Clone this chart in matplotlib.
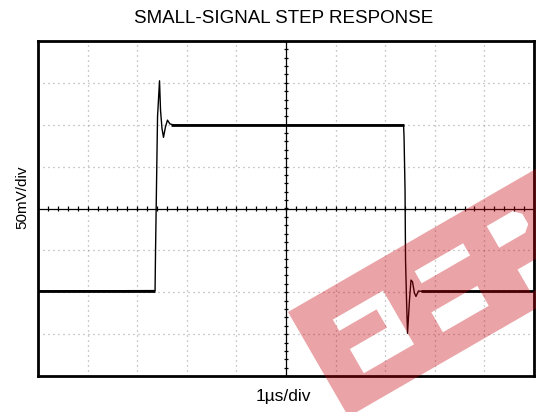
# small-signal step response, scope screenshot style
import numpy as np
import matplotlib
matplotlib.use('Agg')
import matplotlib.pyplot as plt
from matplotlib.path import Path
from matplotlib.patches import PathPatch

plt.rcParams['font.family'] = ['Liberation Sans', 'DejaVu Sans']

W, H = 536, 412

# trace: x in divisions (1us/div), y in divisions (50mV/div)
t_div = [0.0, 2.36, 2.37, 2.39, 2.41, 2.45, 2.47, 2.50, 2.53, 2.57, 2.61, 2.66, 2.75,
         7.37, 7.38, 7.40, 7.41, 7.43, 7.45, 7.49, 7.52, 7.55, 7.59, 7.62, 7.67, 7.75, 10.0]
v_div = [-1.97, -1.96, -0.99, 0.61, 2.19, 3.05, 2.35, 1.91, 1.70, 1.95, 2.11, 2.02, 1.99,
         1.99, 1.71, 0.44, -1.23, -2.18, -2.98, -2.18, -1.71, -1.75, -2.02, -2.10, -1.97, -1.98, -1.98]

# settled (noisy) parts of the trace: start, end, level
settled_start = [0.0, 2.68, 7.72]
settled_end = [2.36, 7.37, 10.0]
settled_level = [-1.97, 1.99, -1.98]

n_xdiv, n_ydiv = 10, 8

fig = plt.figure(figsize=(W / 100, H / 100), dpi=100)
fig.patch.set_facecolor('white')
ax = fig.add_axes([38 / W, 1 - 376 / H, 496 / W, 335 / H])
ax.set_xlim(0, n_xdiv)
ax.set_ylim(-n_ydiv / 2, n_ydiv / 2)
ax.set_xticks([])
ax.set_yticks([])
for s in ax.spines.values():
    s.set_linewidth(2.0)
    s.set_color('black')

# dotted graticule
for x in range(1, n_xdiv):
    if x != n_xdiv // 2:
        ax.axvline(x, color='#9a9a9a', lw=0.9, ls=(0, (0.8, 3.2)), zorder=1)
for y in range(-n_ydiv // 2 + 1, n_ydiv // 2):
    if y != 0:
        ax.axhline(y, color='#9a9a9a', lw=0.9, ls=(0, (0.8, 3.2)), zorder=1)

# centre crosshair with minor ticks
ax.axvline(n_xdiv / 2, color='black', lw=0.9, zorder=2)
ax.axhline(0, color='black', lw=0.9, zorder=2)
xt = np.arange(0, n_xdiv + 0.01, 0.2)
yt = np.arange(-n_ydiv / 2, n_ydiv / 2 + 0.01, 0.2)
ax.vlines(xt, -0.065, 0.065, color='black', lw=0.9, zorder=2)
ax.hlines(yt, n_xdiv / 2 - 0.05, n_xdiv / 2 + 0.05, color='black', lw=0.9, zorder=2)

# trace
ax.plot(t_div, v_div, color='black', lw=1.0, zorder=3)
ax.hlines(settled_level, settled_start, settled_end, color='black', lw=2.0, zorder=3)

# texts
fig.text(284 / W, 1 - 18.5 / H, 'SMALL-SIGNAL STEP RESPONSE', ha='center', va='center', fontsize=13.5)
fig.text(283 / W, 1 - 397 / H, '1µs/div', ha='center', va='center', fontsize=12.5)
fig.text(22.5 / W, 1 - 197 / H, '50mV/div', ha='center', va='center', rotation=90, fontsize=11)

# red watermark band (rotated ~30deg) with letter cut-outs
p0 = np.array([288.0, 312.0])
eu = np.array([np.cos(np.radians(30)), -np.sin(np.radians(30))])
ev = np.array([np.sin(np.radians(30)), np.cos(np.radians(30))])


def to_fig(poly, ccw):
    pts = np.array([p0 + u * eu + v * ev for u, v in poly])
    pts = np.column_stack([pts[:, 0] / W, 1 - pts[:, 1] / H])
    area = 0.5 * np.sum(pts[:, 0] * np.roll(pts[:, 1], -1) - np.roll(pts[:, 0], -1) * pts[:, 1])
    if (area > 0) != ccw:
        pts = pts[::-1]
    return pts


band = [(0, 0), (340, 0), (340, 121), (0, 121)]
holes = [
    [(35, 29), (93, 29), (93, 91), (35, 91), (35, 63), (78, 63), (78, 42), (35, 42)],
    [(124, 72), (177, 72), (177, 95), (124, 95)],
    [(130, 28), (186, 28), (186, 42), (130, 42)],
    [(215, 25), (245, 25), (252, 32), (252, 44), (245, 50), (215, 50)],
    [(220, 78), (270, 78), (270, 105), (220, 105)],
]
verts, codes = [], []
for i, poly in enumerate([band] + holes):
    pts = to_fig(poly, ccw=(i == 0))
    verts += list(pts) + [pts[0]]
    codes += [Path.MOVETO] + [Path.LINETO] * (len(pts) - 1) + [Path.CLOSEPOLY]
wm = PathPatch(Path(verts, codes), transform=fig.transFigure, facecolor=(0.78, 0.0, 0.04),
               edgecolor='none', alpha=0.36, zorder=5)
fig.add_artist(wm)

fig.savefig('out.png', dpi=100)
plt.close()
